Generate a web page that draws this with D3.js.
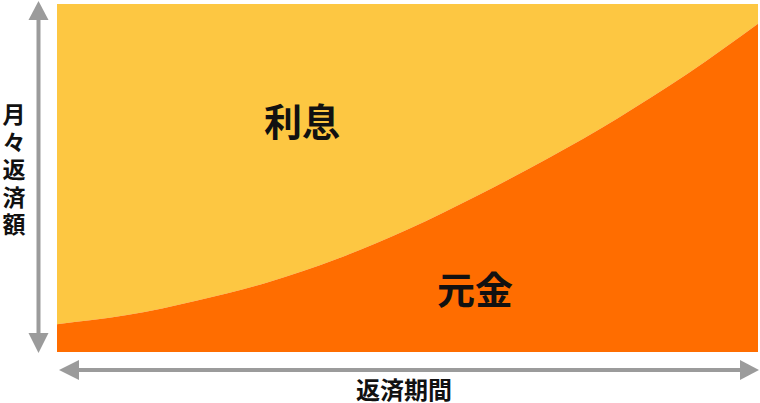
<!DOCTYPE html>
<html>
<head>
<meta charset="utf-8">
<script src="https://cdn.jsdelivr.net/npm/d3@7"></script>
<style>
  html, body { margin: 0; padding: 0; background: #fff; }
  svg { display: block; font-family: "Noto Sans CJK JP", "Noto Sans", sans-serif; font-weight: bold; }
</style>
</head>
<body>
<script>
// repayment periods (0..10) and principal share of the monthly payment
const periods = [0, 1, 2, 3, 4, 5, 6, 7, 8, 9, 10];
const principalShare = [0.080, 0.106, 0.148, 0.200, 0.268, 0.352, 0.450, 0.556, 0.672, 0.800, 0.943];
const areaLabels = ["利息", "元金"];
const axisLabels = ["月々返済額", "返済期間"];

const w = 760;
const h = 403;
const plotLeft = 57, plotRight = 758, plotTop = 4, plotBottom = 352;

const svg = d3.select("body")
              .append("svg")
              .attr("width", w)
              .attr("height", h);

const xScale = d3.scaleLinear()
                 .domain([d3.min(periods), d3.max(periods)])
                 .range([plotLeft, plotRight]);

const yScale = d3.scaleLinear()
                 .domain([0, 1])
                 .range([plotBottom, plotTop]);

const rows = periods.map((p, i) => ({ p: p, v: principalShare[i] }));

// interest part: from the curve up to the full payment
const interestArea = d3.area()
                       .x((d) => xScale(d.p))
                       .y0((d) => yScale(d.v))
                       .y1(yScale(1))
                       .curve(d3.curveMonotoneX);

const principalArea = d3.area()
                        .x((d) => xScale(d.p))
                        .y0(yScale(0))
                        .y1((d) => yScale(d.v))
                        .curve(d3.curveMonotoneX);

svg.append("path")
   .datum(rows)
   .attr("d", interestArea)
   .attr("fill", "#fdc742");

svg.append("path")
   .datum(rows)
   .attr("d", principalArea)
   .attr("fill", "#ff6d00");

// arrows
const grey = "#9b9b9b";
svg.append("line")
   .attr("x1", 38.5).attr("x2", 38.5)
   .attr("y1", 18).attr("y2", 335)
   .attr("stroke", grey).attr("stroke-width", 4);
svg.append("path")
   .attr("d", "M38.5,1 L48.5,20 L28.5,20 Z")
   .attr("fill", grey);
svg.append("path")
   .attr("d", "M38.5,353 L48.5,333 L28.5,333 Z")
   .attr("fill", grey);

svg.append("line")
   .attr("x1", 77).attr("x2", 742)
   .attr("y1", 370).attr("y2", 370)
   .attr("stroke", grey).attr("stroke-width", 4);
svg.append("path")
   .attr("d", "M59,370 L79,360 L79,380 Z")
   .attr("fill", grey);
svg.append("path")
   .attr("d", "M759,370 L740,360 L740,380 Z")
   .attr("fill", grey);

// area labels
svg.append("text")
   .attr("x", 302).attr("y", 119)
   .attr("text-anchor", "middle")
   .attr("dominant-baseline", "central")
   .attr("font-size", 38)
   .attr("fill", "#111")
   .text(areaLabels[0]);

svg.append("text")
   .attr("x", 475).attr("y", 287)
   .attr("text-anchor", "middle")
   .attr("dominant-baseline", "central")
   .attr("font-size", 38)
   .attr("fill", "#111")
   .text(areaLabels[1]);

// vertical axis label, one character per line
const yLabel = svg.append("text")
                  .attr("text-anchor", "middle")
                  .attr("dominant-baseline", "central")
                  .attr("font-size", 23)
                  .attr("fill", "#111");
yLabel.selectAll("tspan")
      .data(Array.from(axisLabels[0]))
      .enter()
      .append("tspan")
      .attr("x", 14)
      .attr("y", (d, i) => 113 + i * 27.5)
      .text((d) => d);

svg.append("text")
   .attr("x", 404).attr("y", 388)
   .attr("text-anchor", "middle")
   .attr("dominant-baseline", "central")
   .attr("font-size", 24)
   .attr("fill", "#111")
   .text(axisLabels[1]);
</script>
</body>
</html>
